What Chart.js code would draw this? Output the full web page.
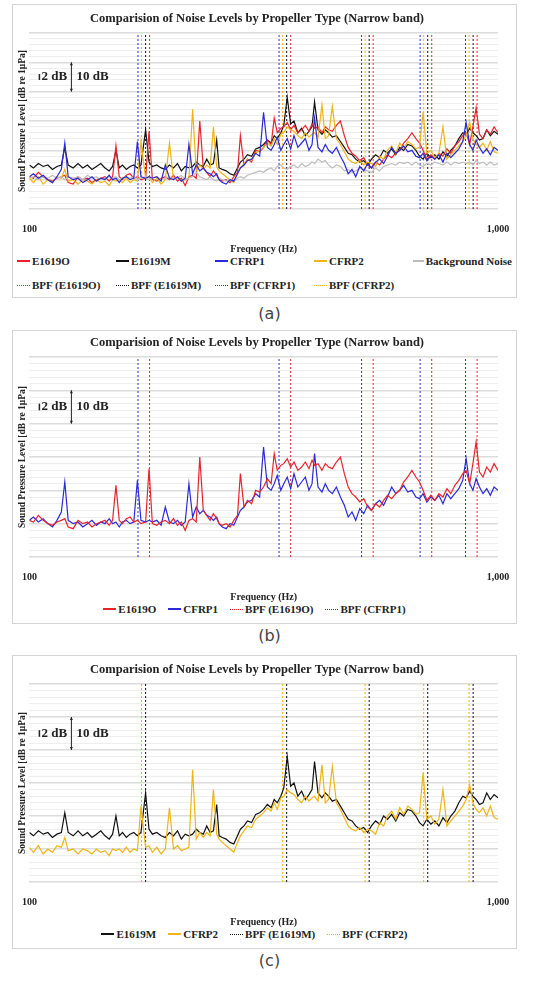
<!DOCTYPE html>
<html>
<head>
<meta charset="utf-8">
<script src="https://cdn.jsdelivr.net/npm/chart.js@4.4.1/dist/chart.umd.min.js"></script>
<style>
  body { margin: 0; background: #fff; width: 539px; height: 982px; position: relative; font-family: "Liberation Serif", serif; }
  .panel { position: absolute; left: 12px; width: 503px; border: 1px solid #d4d4d4; background: #fff; }
  .panel canvas { display: block; }
  .legend { display: flex; font-weight: bold; font-size: 11px; color: #222; }
  .legend .item { display: flex; align-items: center; white-space: nowrap; }
  .legend .sw { display: inline-block; width: 13px; height: 0; margin-right: 2px; }
  .tag { position: absolute; width: 539px; text-align: center; font-family: "DejaVu Sans", sans-serif; font-size: 16px; color: #444; }
</style>
</head>
<body>
<div class="panel" id="pa" style="top:4px;height:292px">
  <canvas id="ca" width="503" height="250"></canvas>
  <div class="legend" id="la" style="flex-wrap:wrap;padding-left:4px;row-gap:12px"></div>
</div>
<div class="tag" style="top:304px">(a)</div>
<div class="panel" id="pb" style="top:330px;height:292px">
  <canvas id="cb" width="503" height="272"></canvas>
  <div class="legend" id="lb" style="justify-content:center;gap:12px;margin-left:-20px"></div>
</div>
<div class="tag" style="top:626px">(b)</div>
<div class="panel" id="pc" style="top:655px;height:292px">
  <canvas id="cc" width="503" height="272"></canvas>
  <div class="legend" id="lc" style="justify-content:center;gap:12px;margin-left:-20px"></div>
</div>
<div class="tag" style="top:951px">(c)</div>

<script>
// frequency grid (Hz)
const freqs = [
  100, 102, 104.5, 107, 109.5, 112, 114.5, 117, 119, 121,
  124, 127, 130, 133, 136, 139, 142, 145, 148, 150.5,
  153, 155.5, 158, 161, 164, 167, 170, 173, 177, 180,
  183, 187, 191, 195, 199, 203, 207, 211, 215, 219,
  223, 227, 231, 235, 239, 243, 247, 251, 254, 258,
  263, 268, 273, 278, 282, 287, 292, 298, 304, 310,
  316, 322, 328, 333, 338, 344, 349, 355, 361, 367,
  374, 381, 388, 395, 401, 406, 413, 421, 428, 435,
  443, 452, 461, 470, 479, 488, 497, 507, 517, 527,
  537, 548, 559, 570, 581, 593, 605, 617, 629, 642,
  655, 668, 680, 692, 705, 719, 733, 748, 763, 778,
  793, 809, 825, 841, 855, 870, 884, 898, 913, 929,
  946, 963, 981, 1000
];

// relative SPL (dB), one value per frequency
const e1619o = [
  11, 10.5, 12.5, 11, 10, 9.5, 10.5, 11, 11.5, 9,
  8.5, 11, 10, 10.5, 9, 10, 10.5, 11, 9.5, 11,
  21.5, 11, 10, 11.5, 12, 10.5, 11, 10, 10.5, 26.5,
  10, 9.5, 10.5, 11, 10, 11.5, 9.5, 10.5, 8, 11,
  11.5, 10.5, 30, 14, 12.5, 11, 13, 11.5, 10, 9.5,
  10, 9, 11, 12.5, 25, 15, 17, 16, 20, 19.5,
  21, 23.5, 22, 31, 26, 27.5, 28, 29.5, 27, 28.5,
  26, 27, 28.5, 26.5, 29, 27.5, 28, 26, 28, 27,
  26.5, 28.5, 30, 25, 21, 19, 18, 16.5, 17.5, 15,
  14, 16, 15, 17, 18.5, 17.5, 19, 20, 22.5, 24,
  26, 24, 22.5, 20, 17, 18.5, 17, 19, 18, 20.5,
  19, 21.5, 23, 25, 26, 22, 28, 34.5, 25.5, 24,
  27, 25.5, 28, 26
];
const cfrp1 = [
  11, 12, 10.5, 11.5, 10, 9, 11, 13.5, 22.5, 11,
  10, 10.5, 9, 10, 11, 9.5, 10.5, 10, 11.5, 10,
  10.5, 9, 10.5, 11, 10, 10.5, 23, 11, 10.5, 11,
  10.5, 11, 9.5, 15, 10.5, 10, 11, 9.5, 10.5, 22,
  12, 15, 13, 14, 12.5, 12, 11, 12, 10, 9,
  8.5, 10, 9.5, 12, 14, 15, 16.5, 17, 19, 18,
  33, 21, 20, 22, 24.5, 20, 22, 24, 20.5, 25,
  21, 22.5, 24, 20, 22, 31, 21, 19.5, 22, 20,
  19, 21, 18, 15.5, 12, 13.5, 11, 14.5, 13, 15.5,
  14, 16, 17, 15.5, 18, 21, 19, 20, 21.5, 19.5,
  20, 18, 17.5, 19, 16.5, 18, 17, 18.5, 16, 19,
  17.5, 19, 20.5, 23, 29.5, 22, 20, 23.5, 21, 19,
  20.5, 18.5, 21, 20
];
const e1619m = [
  15, 14, 15.5, 14.5, 15, 13.5, 14.5, 15, 21, 15,
  14, 15.5, 14, 15, 13.5, 14.5, 15.5, 14, 13, 14.5,
  20, 14, 15, 13.5, 14.5, 15, 14, 15, 27, 16,
  14.5, 15, 14, 13.5, 15, 14, 15.5, 13, 14.5, 14,
  14.5, 16, 15, 14.5, 17, 15, 15.5, 23.5, 14, 13.5,
  13, 12, 11.5, 14, 16, 17, 18.5, 18, 20.5, 21,
  22, 23.5, 22.5, 25, 24, 26, 28.5, 38, 29, 30,
  26, 27.5, 25, 26.5, 28, 36.5, 27, 25.5, 27, 26,
  24.5, 25, 23, 21, 19, 18.5, 17, 16, 16.5, 15,
  17, 18.5, 17.5, 20, 19, 20.5, 18.5, 21, 20, 22,
  21.5, 20, 18, 17, 19, 17.5, 18.5, 17, 19.5, 18,
  20, 21.5, 24, 26, 25.5, 27.5, 26, 25, 23.5, 24,
  27, 25, 26.5, 25.5
];
const cfrp2 = [
  10.5, 9, 11, 8.5, 10, 9, 11, 10.5, 13.5, 9.5,
  10, 8.5, 10, 9.5, 8.5, 10, 9, 9.5, 8, 10,
  9.5, 10, 9, 10.5, 9, 10, 9.5, 23, 10.5, 11,
  9, 10.5, 8.5, 10, 22.5, 10, 11, 9.5, 10, 10.5,
  34, 13, 15, 13.5, 15, 14, 28, 14.5, 13, 12,
  11, 10, 9, 12, 14, 15.5, 17, 16.5, 19, 20,
  21, 22.5, 21.5, 24, 22, 25.5, 26, 28, 27, 26.5,
  25, 24, 26, 24.5, 25.5, 26, 24.5, 35.5, 24, 25,
  35, 24, 22, 19.5, 17, 16, 15.5, 16.5, 15, 16,
  15.5, 14.5, 18, 17, 20, 21.5, 19, 22.5, 20.5, 23,
  22, 20.5, 21, 33, 19, 20, 17.5, 19, 28, 17,
  18.5, 20, 21.5, 23, 25, 29.5, 24, 22, 21, 22.5,
  20, 23, 19.5, 19
];
const backgroundNoise = [
  10.5, 11, 10, 11, 10.5, 11.5, 10.5, 11, 10, 11,
  10.5, 11, 10, 11.5, 10.5, 11, 10, 10.5, 11, 10.5,
  11, 10, 10.5, 11, 10.5, 11, 10, 10.5, 11, 10,
  10.5, 11, 10, 10.5, 11, 10, 10.5, 11.5, 10, 10.5,
  11, 12.5, 11, 10.5, 10, 11, 10, 9.5, 10.5, 10,
  9.5, 10, 9.5, 10.5, 11, 10.5, 11.5, 12, 12.5, 13,
  12.5, 13.5, 14, 13, 14.5, 15, 14, 13.5, 14.5, 15,
  14, 15.5, 14.5, 15, 16, 15.5, 17, 16, 16.5, 15,
  14, 15, 14.5, 13, 13.5, 12.5, 13, 14, 13.5, 13,
  12.5, 14, 13, 14.5, 15, 15.5, 15, 16, 15.5, 16,
  15, 16, 15, 14.5, 15.5, 15, 16, 15.5, 15, 16,
  15, 16, 15.5, 16, 15.5, 16, 15, 16.5, 15.5, 16,
  15, 16, 15, 15.5
];

// blade passing frequency harmonics (Hz)
const bpfE1619O = [180.5, 361, 541.5, 722, 902.5];
const bpfE1619M = [177, 354, 531, 708, 885];
const bpfCFRP1 = [170.5, 341, 511.5, 682, 852.5];
const bpfCFRP2 = [173.5, 347, 520.5, 694, 867.5];

const xTicks = [100, 1000];
const yMin = 0, yMax = 60;

const RED = '#e8232b', BLACK = '#111111', BLUE = '#2a2ad8', YELLOW = '#f0b414', GRAY = '#bdbdbd';
const SERIF = '"Liberation Serif", "Times New Roman", serif';

function lineSet(label, vals, color) {
  return {
    label, data: freqs.map((f, i) => ({ x: f, y: vals[i] })),
    borderColor: color, backgroundColor: color, borderWidth: 1.2,
    pointRadius: 0, tension: 0
  };
}

function bpfSet(label, list, color) {
  const data = [];
  list.forEach(f => {
    data.push({ x: f, y: yMin }, { x: f, y: yMax }, { x: f, y: null });
  });
  return {
    label, data, borderColor: color, backgroundColor: color, borderWidth: 1,
    borderDash: [2, 2], pointRadius: 0, spanGaps: false
  };
}

// "2 dB / 10 dB" scale mark
const scaleMark = {
  id: 'scaleMark',
  afterDatasetsDraw(chart) {
    const { ctx, chartArea, scales } = chart;
    const x = chartArea.left + 42;
    const yTop = scales.y.getPixelForValue(50);
    const yBot = scales.y.getPixelForValue(40);
    const yMid = (yTop + yBot) / 2;
    ctx.save();
    ctx.strokeStyle = '#222';
    ctx.fillStyle = '#222';
    ctx.lineWidth = 1;
    ctx.beginPath();
    ctx.moveTo(x, yTop); ctx.lineTo(x, yBot);
    ctx.stroke();
    [[yTop, 1], [yBot, -1]].forEach(([yy, d]) => {
      ctx.beginPath();
      ctx.moveTo(x, yy); ctx.lineTo(x - 1.5, yy + 3 * d); ctx.lineTo(x + 1.5, yy + 3 * d);
      ctx.fill();
    });
    // small 2 dB arrow
    const s = (yBot - yTop) / 5;
    ctx.beginPath();
    ctx.moveTo(chartArea.left + 10, yMid - s / 2); ctx.lineTo(chartArea.left + 10, yMid + s / 2);
    ctx.lineWidth = 1.5;
    ctx.stroke();
    ctx.font = 'bold 13px ' + SERIF;
    ctx.textBaseline = 'middle';
    ctx.textAlign = 'left';
    ctx.fillText('2 dB', chartArea.left + 12, yMid);
    ctx.fillText('10 dB', x + 5, yMid);
    ctx.restore();
  }
};

function drawPanel(canvasId, datasets, top) {
  new Chart(document.getElementById(canvasId), {
    type: 'line',
    data: { datasets },
    plugins: [scaleMark],
    options: {
      responsive: false,
      animation: false,
      layout: { padding: { left: 3, right: 18, top: 2, bottom: 0 } },
      plugins: {
        legend: { display: false },
        tooltip: { enabled: false },
        title: {
          display: true,
          text: 'Comparision of Noise Levels by Propeller Type (Narrow band)',
          color: '#222', font: { family: SERIF, size: 12.5, weight: 'bold' },
          padding: { top: top, bottom: 7 }
        }
      },
      scales: {
        x: {
          type: 'logarithmic', min: 100, max: 1000,
          afterBuildTicks: axis => { axis.ticks = xTicks.map(v => ({ value: v })); },
          ticks: {
            color: '#222', font: { family: SERIF, size: 10, weight: 'bold' }, padding: 6,
            callback: v => v.toLocaleString('en-US'), maxRotation: 0
          },
          grid: { display: false },
          border: { display: false },
          title: { display: true, text: 'Frequency (Hz)', color: '#222', font: { family: SERIF, size: 10, weight: 'bold' }, padding: { top: 2, bottom: 0 } }
        },
        y: {
          min: yMin, max: yMax,
          ticks: { stepSize: 2, display: false },
          grid: {
            drawTicks: false,
            color: c => c.tick.value % 10 === 0 ? '#dcdcdc' : '#eeeeee',
            lineWidth: c => c.tick.value % 10 === 0 ? 1.6 : 1
          },
          border: { display: false },
          title: { display: true, text: 'Sound Pressure Level [dB re 1μPa]', color: '#222', font: { family: SERIF, size: 9.5, weight: 'bold' }, padding: 1 }
        }
      }
    }
  });
}

function buildLegend(id, items, colWidth) {
  const el = document.getElementById(id);
  items.forEach(([label, color, dotted]) => {
    const item = document.createElement('span');
    item.className = 'item';
    if (colWidth) item.style.width = colWidth + 'px';
    const sw = document.createElement('span');
    sw.className = 'sw';
    sw.style.borderTop = (dotted ? '1px dotted ' : '2px solid ') + color;
    item.appendChild(sw);
    item.appendChild(document.createTextNode(label));
    el.appendChild(item);
  });
}

drawPanel('ca', [
  lineSet('CFRP1', cfrp1, BLUE),
  lineSet('Background Noise', backgroundNoise, GRAY),
  lineSet('CFRP2', cfrp2, YELLOW),
  lineSet('E1619O', e1619o, RED),
  lineSet('E1619M', e1619m, BLACK),
  bpfSet('BPF (CFRP1)', bpfCFRP1, BLUE),
  bpfSet('BPF (CFRP2)', bpfCFRP2, YELLOW),
  bpfSet('BPF (E1619M)', bpfE1619M, BLACK),
  bpfSet('BPF (E1619O)', bpfE1619O, RED)
], 4);
buildLegend('la', [
  ['E1619O', RED], ['E1619M', BLACK], ['CFRP1', BLUE], ['CFRP2', YELLOW], ['Background Noise', GRAY],
  ['BPF (E1619O)', RED, 1], ['BPF (E1619M)', BLACK, 1], ['BPF (CFRP1)', BLUE, 1], ['BPF (CFRP2)', YELLOW, 1]
], 99);

drawPanel('cb', [
  lineSet('E1619O', e1619o, RED),
  lineSet('CFRP1', cfrp1, BLUE),
  bpfSet('BPF (E1619O)', bpfE1619O, RED),
  bpfSet('BPF (CFRP1)', bpfCFRP1, BLUE)
], 2);
buildLegend('lb', [
  ['E1619O', RED], ['CFRP1', BLUE], ['BPF (E1619O)', RED, 1], ['BPF (CFRP1)', BLUE, 1]
]);

drawPanel('cc', [
  lineSet('CFRP2', cfrp2, YELLOW),
  lineSet('E1619M', e1619m, BLACK),
  bpfSet('BPF (E1619M)', bpfE1619M, BLACK),
  bpfSet('BPF (CFRP2)', bpfCFRP2, YELLOW)
], 4);
buildLegend('lc', [
  ['E1619M', BLACK], ['CFRP2', YELLOW], ['BPF (E1619M)', BLACK, 1], ['BPF (CFRP2)', YELLOW, 1]
]);
</script>
</body>
</html>
